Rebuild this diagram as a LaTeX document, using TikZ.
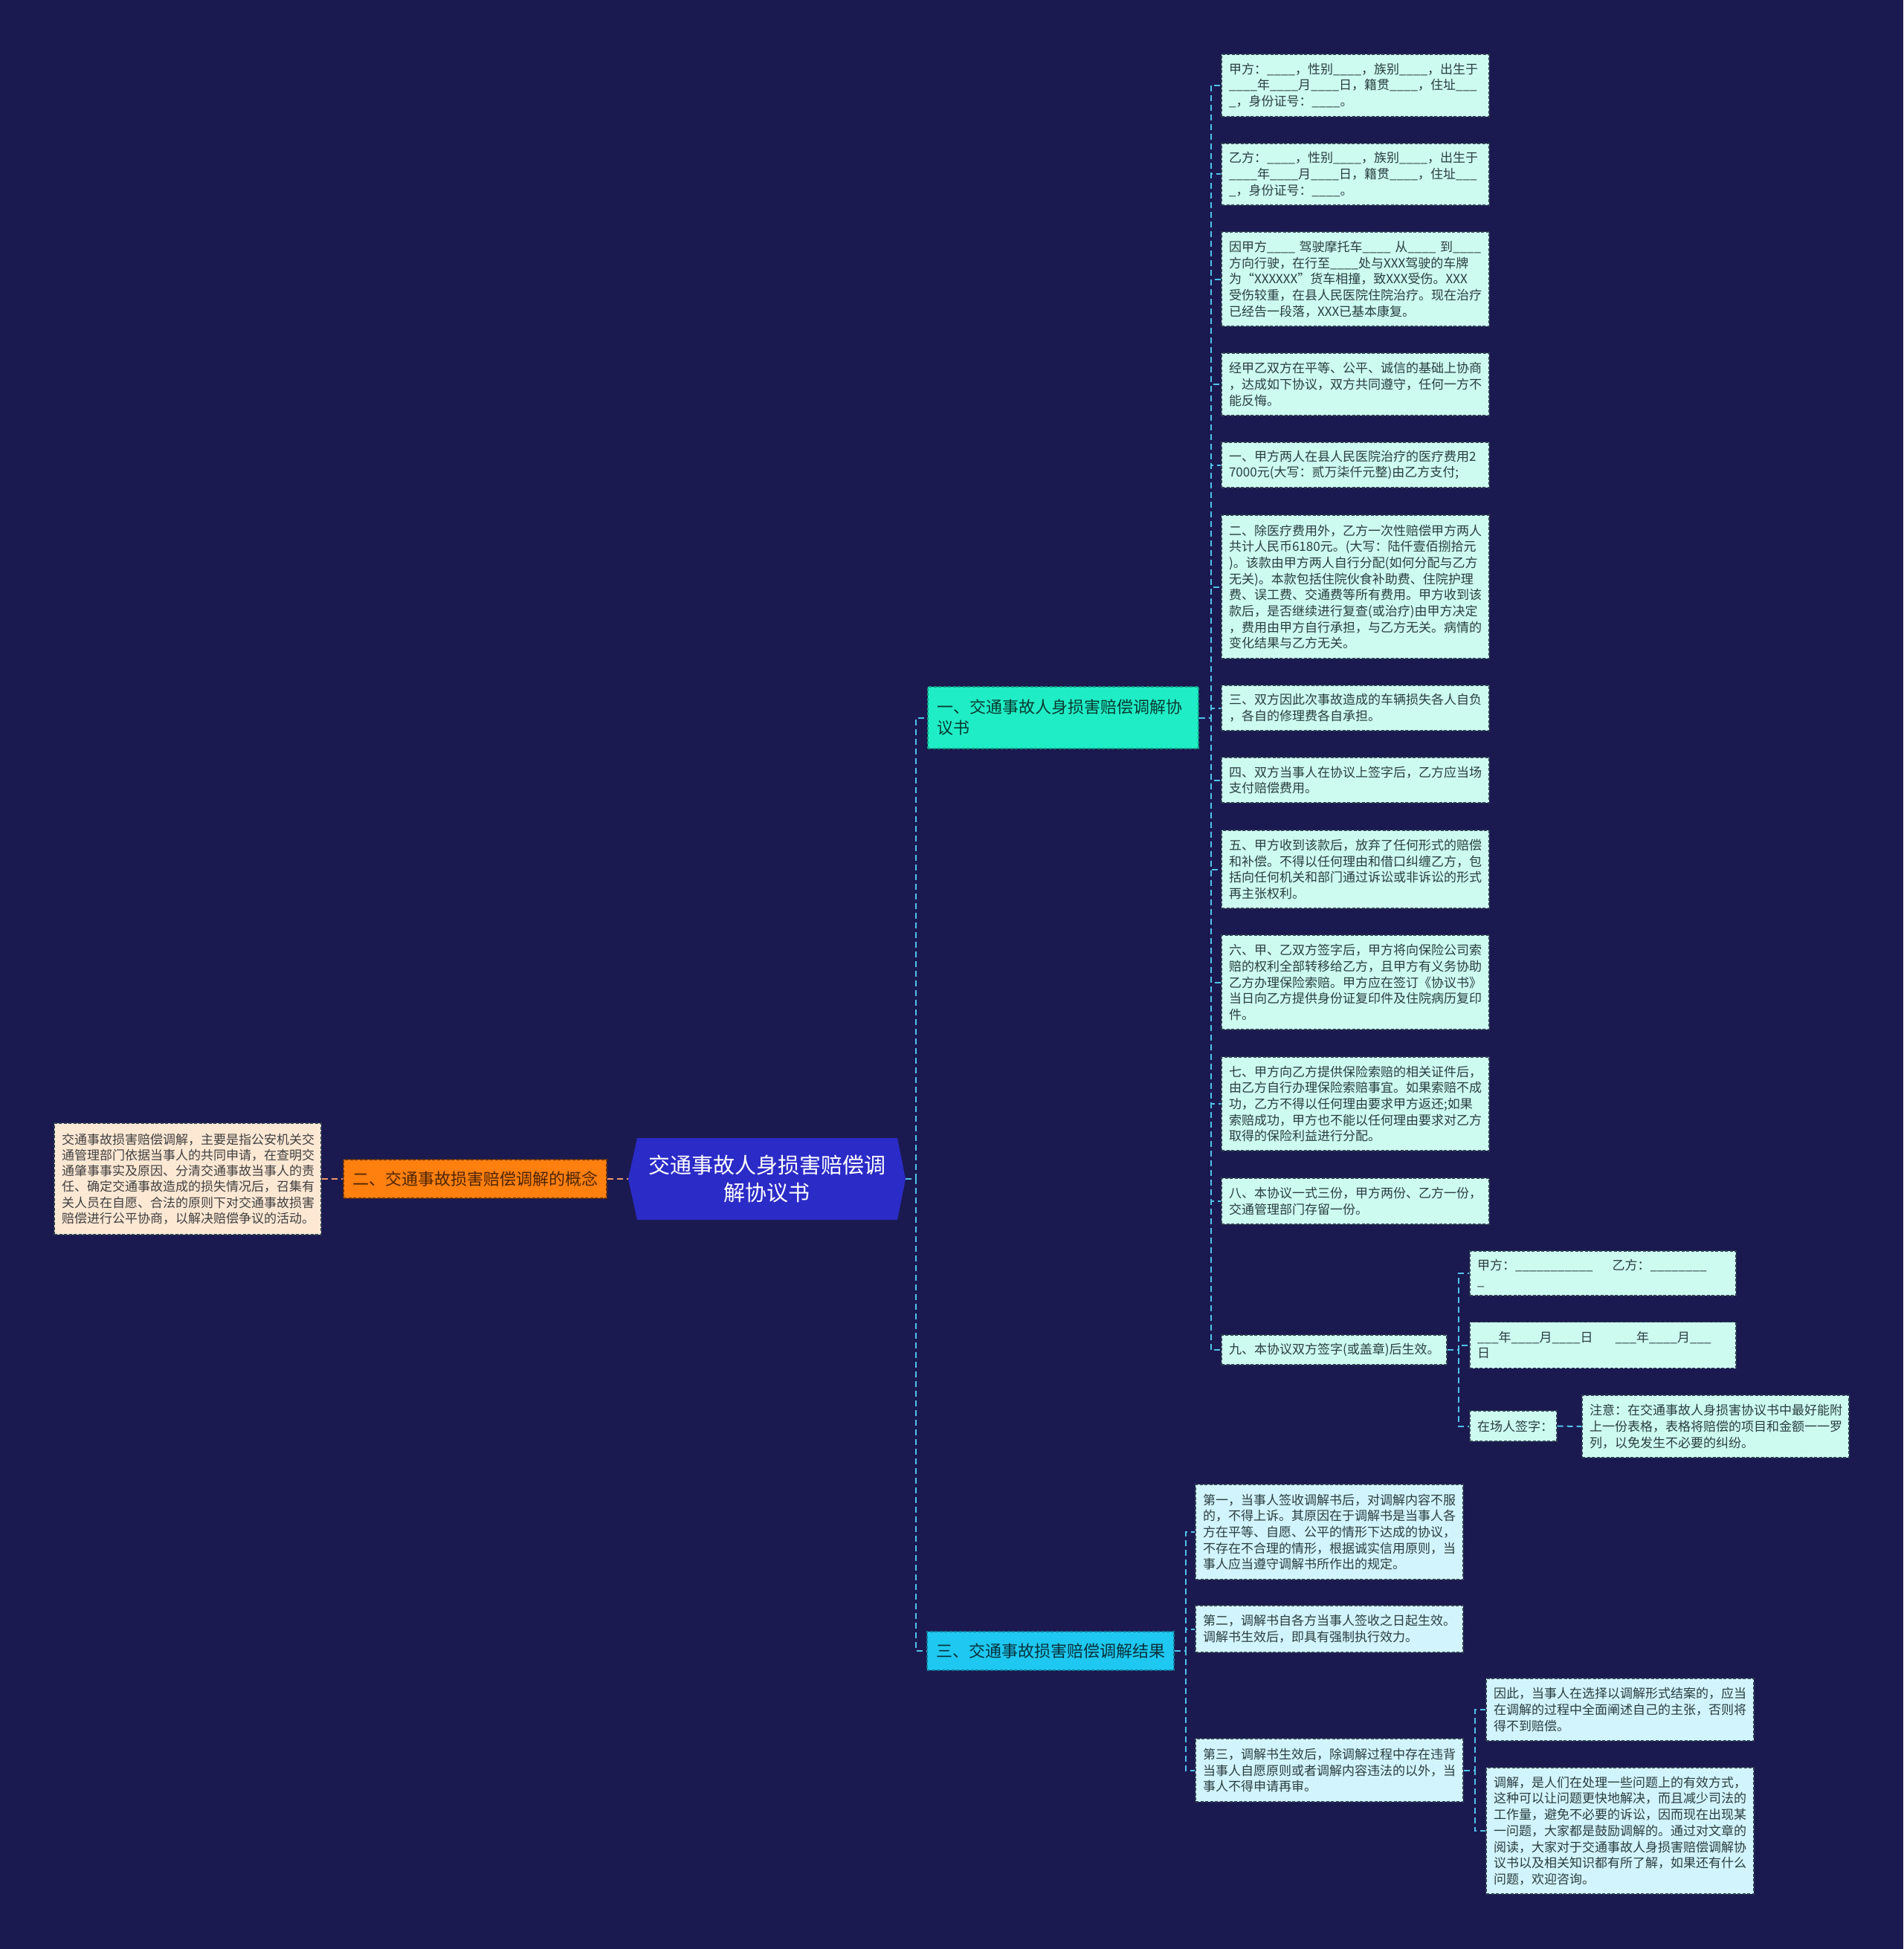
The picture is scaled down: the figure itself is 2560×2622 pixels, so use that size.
\documentclass[tikz,border=0pt]{standalone}
\usepackage{fontspec}
\setmainfont{Noto Sans CJK SC}
\usetikzlibrary{calc}
\definecolor{bgc}{HTML}{1B1A50}
\definecolor{rootc}{HTML}{2B2BC8}
\definecolor{bonec}{HTML}{1FEDC6}
\definecolor{bthreec}{HTML}{1EC8F0}
\definecolor{mintc}{HTML}{CDFBF0}
\definecolor{cyanl}{HTML}{D2F4FC}
\definecolor{orangec}{HTML}{FF7F0F}
\definecolor{peachc}{HTML}{FDE8D4}
\definecolor{linec}{HTML}{4FC3E8}
\definecolor{olinec}{HTML}{F09868}
\definecolor{borderc}{HTML}{2E4050}
\definecolor{leaftext}{HTML}{2A3E40}
\newcommand\ublank{\_\_\_\_}
\begin{document}
\begin{tikzpicture}[x=1pt,y=-1pt,
  leaf/.style={draw=borderc, dash pattern=on 4pt off 2.5pt, line width=1.3pt,
    fill=mintc, text=leaftext, inner xsep=10pt, inner ysep=0pt, align=left,
    font=\fontsize{17}{21.7}\selectfont},
  cleaf/.style={leaf, fill=cyanl},
  pleaf/.style={leaf, fill=peachc, text=black!75, font=\fontsize{17}{21.3}\selectfont},
  branch/.style={dash pattern=on 4pt off 2.5pt, line width=1.3pt, inner xsep=12pt,
    inner ysep=0pt, align=left, font=\fontsize{22}{28}\selectfont},
  conn/.style={draw=linec, line width=2pt, dash pattern=on 8pt off 5pt},
  oconn/.style={draw=olinec, line width=2pt, dash pattern=on 8pt off 5pt}
]
\fill[bgc] (0,0) rectangle (2560,2622);
\useasboundingbox (0,0) rectangle (2560,2622);

% root hexagon
\fill[rootc] (845,1586) -- (857,1531) -- (1207,1531) -- (1218,1586) -- (1207,1641) -- (857,1641) -- cycle;
\node[minimum width=373pt, minimum height=110pt, inner sep=0pt, align=center, text=white,
  font=\fontsize{29}{37}\selectfont] (root) at (1031.5,1586) {交通事故人身损害赔偿调\\解协议书};

% left side
\node[branch, fill=orangec, draw=black!60!orangec, text=black!70!orangec, minimum width=352pt,
  minimum height=52pt] (b2) at (639,1586) {二、交通事故损害赔偿调解的概念};
\node[pleaf, minimum width=359pt, text width=339pt, minimum height=150pt] (p1) at (252.5,1586)
{交通事故损害赔偿调解，主要是指公安机关交\\通管理部门依据当事人的共同申请，在查明交\\通肇事事实及原因、分清交通事故当事人的责\\任、确定交通事故造成的损失情况后，召集有\\关人员在自愿、合法的原则下对交通事故损害\\赔偿进行公平协商，以解决赔偿争议的活动。};

% branches
\node[branch, fill=bonec, draw=black!35!bonec, text=black!75!bonec, minimum width=364pt,
  text width=340pt, minimum height=83pt] (b1) at (1430,965.5) {一、交通事故人身损害赔偿调解协\\议书};
\node[branch, fill=bthreec, draw=black!40!bthreec, text=black!75!bthreec, minimum width=330pt,
  minimum height=52pt] (b3) at (1413,2221) {三、交通事故损害赔偿调解结果};

% branch 1 leaves
\begin{scope}[every node/.append style={leaf, minimum width=360pt, text width=340pt}]
\node[minimum height=84pt] (l1) at (1823,115) {甲方：\ublank，性别\ublank，族别\ublank，出生于\\\ublank 年\ublank 月\ublank 日，籍贯\ublank，住址\_\_\_\\\_，身份证号：\ublank。};
\node[minimum height=83pt] (l2) at (1823,234.5) {乙方：\ublank，性别\ublank，族别\ublank，出生于\\\ublank 年\ublank 月\ublank 日，籍贯\ublank，住址\_\_\_\\\_，身份证号：\ublank。};
\node[minimum height=127pt] (l3) at (1823,375.5) {因甲方\ublank~驾驶摩托车\ublank~从\ublank~到\ublank\\方向行驶，在行至\ublank 处与XXX驾驶的车牌\\为“XXXXXX”货车相撞，致XXX受伤。XXX\\受伤较重，在县人民医院住院治疗。现在治疗\\已经告一段落，XXX已基本康复。};
\node[minimum height=84pt] (l4) at (1823,517) {经甲乙双方在平等、公平、诚信的基础上协商\\，达成如下协议，双方共同遵守，任何一方不\\能反悔。};
\node[minimum height=61pt] (l5) at (1823,625.5) {一、甲方两人在县人民医院治疗的医疗费用2\\7000元(大写：贰万柒仟元整)由乙方支付;};
\node[minimum height=193pt] (l6) at (1823,789.5) {二、除医疗费用外，乙方一次性赔偿甲方两人\\共计人民币6180元。(大写：陆仟壹佰捌拾元\\)。该款由甲方两人自行分配(如何分配与乙方\\无关)。本款包括住院伙食补助费、住院护理\\费、误工费、交通费等所有费用。甲方收到该\\款后，是否继续进行复查(或治疗)由甲方决定\\，费用由甲方自行承担，与乙方无关。病情的\\变化结果与乙方无关。};
\node[minimum height=61pt] (l7) at (1823,952.5) {三、双方因此次事故造成的车辆损失各人自负\\，各自的修理费各自承担。};
\node[minimum height=61pt] (l8) at (1823,1049.5) {四、双方当事人在协议上签字后，乙方应当场\\支付赔偿费用。};
\node[minimum height=105pt] (l9) at (1823,1169.5) {五、甲方收到该款后，放弃了任何形式的赔偿\\和补偿。不得以任何理由和借口纠缠乙方，包\\括向任何机关和部门通过诉讼或非诉讼的形式\\再主张权利。};
\node[minimum height=127pt] (l10) at (1823,1321.5) {六、甲、乙双方签字后，甲方将向保险公司索\\赔的权利全部转移给乙方，且甲方有义务协助\\乙方办理保险索赔。甲方应在签订《协议书》\\当日向乙方提供身份证复印件及住院病历复印\\件。};
\node[minimum height=126pt] (l11) at (1823,1485) {七、甲方向乙方提供保险索赔的相关证件后，\\由乙方自行办理保险索赔事宜。如果索赔不成\\功，乙方不得以任何理由要求甲方返还;如果\\索赔成功，甲方也不能以任何理由要求对乙方\\取得的保险利益进行分配。};
\node[minimum height=62pt] (l12) at (1823,1616) {八、本协议一式三份，甲方两份、乙方一份，\\交通管理部门存留一份。};
\end{scope}
\node[leaf, minimum width=303pt, text width=283pt, minimum height=40pt] (l13) at (1794.5,1816) {九、本协议双方签字(或盖章)后生效。};

% grandchildren of 9
\node[leaf, minimum width=358pt, text width=338pt, minimum height=60pt] (s1) at (2156,1713)
{\mbox{甲方：\_\_\_\_\_\_\_\_\_\_\_\hspace{26pt}乙方：\_\_\_\_\_\_\_\_}\\\_};
\node[leaf, minimum width=358pt, text width=338pt, minimum height=62pt] (s2) at (2156,1809.5)
{\mbox{\_\_\_年\_\_\_\_月\_\_\_\_日\hspace{30pt}\_\_\_年\_\_\_\_月\_\_\_}\\日};
\node[leaf, minimum width=117pt, text width=97pt, minimum height=41pt] (s3) at (2035.5,1918.5) {在场人签字：};
\node[leaf, minimum width=359pt, text width=339pt, minimum height=84pt] (s4) at (2307.5,1919)
{注意：在交通事故人身损害协议书中最好能附\\上一份表格，表格将赔偿的项目和金额一一罗\\列，以免发生不必要的纠纷。};

% branch 3 leaves
\begin{scope}[every node/.append style={cleaf, minimum width=360pt, text width=340pt}]
\node[minimum height=128pt] (m1) at (1788,2061) {第一，当事人签收调解书后，对调解内容不服\\的，不得上诉。其原因在于调解书是当事人各\\方在平等、自愿、公平的情形下达成的协议，\\不存在不合理的情形，根据诚实信用原则，当\\事人应当遵守调解书所作出的规定。};
\node[minimum height=63pt] (m2) at (1788,2191.5) {第二，调解书自各方当事人签收之日起生效。\\调解书生效后，即具有强制执行效力。};
\node[minimum height=85pt] (m3) at (1788,2381.5) {第三，调解书生效后，除调解过程中存在违背\\当事人自愿原则或者调解内容违法的以外，当\\事人不得申请再审。};
\node[minimum height=84pt] (n1) at (2179,2300) {因此，当事人在选择以调解形式结案的，应当\\在调解的过程中全面阐述自己的主张，否则将\\得不到赔偿。};
\node[minimum height=170pt] (n2) at (2179,2463) {调解，是人们在处理一些问题上的有效方式，\\这种可以让问题更快地解决，而且减少司法的\\工作量，避免不必要的诉讼，因而现在出现某\\一问题，大家都是鼓励调解的。通过对文章的\\阅读，大家对于交通事故人身损害赔偿调解协\\议书以及相关知识都有所了解，如果还有什么\\问题，欢迎咨询。};
\end{scope}

% connectors
\draw[oconn] (b2.east) -- (root.west);
\draw[oconn] (p1.east) -- (b2.west);
\foreach \b in {b1,b3} \draw[conn] (root.east) -- ++(14,0) |- (\b.west);
\foreach \n in {l1,l2,l3,l4,l5,l6,l7,l8,l9,l10,l11,l12,l13}
  \draw[conn] (b1.east) -- ++(16,0) |- (\n.west);
\foreach \n in {s1,s2,s3}
  \draw[conn] (l13.east) -- ++(15,0) |- (\n.west);
\draw[conn] (s3.east) -- (s4.west);
\foreach \n in {m1,m2,m3}
  \draw[conn] (b3.east) -- ++(15,0) |- (\n.west);
\foreach \n in {n1,n2}
  \draw[conn] (m3.east) -- ++(15,0) |- (\n.west);
\end{tikzpicture}
\end{document}
